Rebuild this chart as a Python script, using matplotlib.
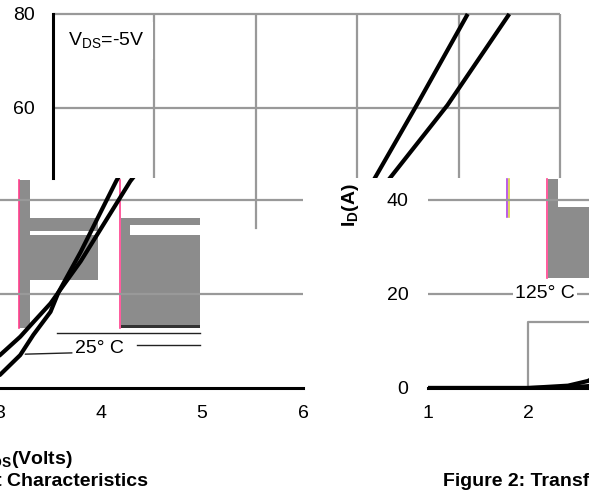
import matplotlib
matplotlib.use("Agg")
import matplotlib.pyplot as plt
from matplotlib.patches import Rectangle

plt.rcParams["font.family"] = ["Liberation Sans", "DejaVu Sans"]
plt.rcParams["mathtext.default"] = "regular"

# Transfer characteristics: drain current vs gate voltage, VDS = -5 V
vgs_25 = [1.0, 2.0, 2.4, 2.6, 2.8, 3.0, 3.2, 3.33, 3.5, 3.58, 3.8, 4.15, 4.6, 5.09]
id_25 = [0.0, 0.0, 0.1, 0.4, 1.2, 2.8, 7.0, 11.3, 16.2, 20.4, 29.0, 44.0, 61.0, 80.0]
vgs_125 = [1.0, 2.0, 2.4, 2.6, 2.8, 3.0, 3.2, 3.33, 3.5, 3.58, 3.8, 4.29, 4.89, 5.5]
id_125 = [0.0, 0.0, 0.5, 1.5, 3.8, 7.0, 10.9, 14.0, 18.0, 20.4, 27.0, 44.0, 60.5, 80.0]

x_ticks = [1, 2, 3, 4, 5, 6]
y_ticks = [0, 20, 40, 60, 80]
label_25 = "25° C"
label_125 = "125° C"
cond_text = "V$_{DS}$=-5V"
x_label = "-V$_{DS}$(Volts)"
y_label = "I$_D$(A)"
caption_1 = "Figure 1: Output Characteristics"
caption_2 = "Figure 2: Transfer Characteristics"

W, H = 589, 496
fig = plt.figure(figsize=(W / 100, H / 100), dpi=100)
fig.patch.set_facecolor("white")

GRID = "#999999"
FS = 14


def frac(x0, y0, x1, y1):
    """Pixel box (top-left origin) -> figure-fraction axes rect."""
    return [x0 / W, 1 - y1 / H, (x1 - x0) / W, (y1 - y0) / H]


def base(ax):
    for s in ax.spines.values():
        s.set_visible(False)
    ax.tick_params(length=0, labelsize=FS)
    ax.set_xticks([])
    ax.set_yticks([])


def curves(ax):
    ax.plot(vgs_25, id_25, color="black", lw=3.0, solid_capstyle="butt", zorder=4)
    ax.plot(vgs_125, id_125, color="black", lw=3.0, solid_capstyle="butt", zorder=4)


def fig_rect(ax, x0, y0, x1, y1, color="#8c8c8c", z=0.5):
    ax.add_patch(Rectangle((x0 / W, 1 - y1 / H), (x1 - x0) / W, (y1 - y0) / H,
                           transform=fig.transFigure, facecolor=color,
                           edgecolor="none", zorder=z, clip_on=False))


def fig_vline(ax, x, y0, y1, color, lw=1.2):
    ax.plot([x / W, x / W], [1 - y0 / H, 1 - y1 / H], transform=fig.transFigure,
            color=color, lw=lw, zorder=0.6, clip_on=False)


def fig_hline(ax, y, x0, x1, color="#222222", lw=1.0):
    ax.plot([x0 / W, x1 / W], [1 - y / H, 1 - y / H], transform=fig.transFigure,
            color=color, lw=lw, zorder=3, clip_on=False)


# ---- lower left window (VGS 3..6) ----
axb = fig.add_axes(frac(0, 178, 335, 388))
base(axb)
axb.set_facecolor("none")
axb.set_xlim(3, 3 + 335 / 101)
axb.set_ylim(0, 210 / 4.7)
axb.spines["bottom"].set_visible(True)
axb.spines["bottom"].set_linewidth(2.2)
axb.spines["bottom"].set_bounds(3, 6)
axb.set_xticks([t for t in x_ticks if t >= 3])
axb.tick_params(axis="x", pad=12)
for yv in y_ticks[1:3]:
    axb.hlines(yv, 3, 6, color=GRID, lw=1.6, zorder=1)
curves(axb)
axb.annotate(label_25, xy=(3.25, 7.2), xytext=(3.74, 8.5), fontsize=FS,
             ha="left", va="center", zorder=5,
             arrowprops=dict(arrowstyle="-", color="#222222", lw=1.0,
                             shrinkA=0, shrinkB=0, relpos=(0, 0.22)))
fig_hline(axb, 333, 57, 200)
fig_hline(axb, 345, 137, 200)
fig_vline(axb, 256, 178, 228, GRID, lw=1.6)
# grey blocks
fig_rect(axb, 19, 180, 30, 328)
fig_rect(axb, 30, 218, 98, 231)
fig_rect(axb, 30, 235, 98, 280)
fig_rect(axb, 121, 218, 200, 225)
fig_rect(axb, 121, 225, 130, 235)
fig_rect(axb, 121, 235, 200, 328)
fig_rect(axb, 121, 325, 200, 328, color="#333333")
fig_vline(axb, 19, 180, 328, "#ff3d8b")
fig_vline(axb, 120, 180, 328, "#ff3d8b")

# ---- lower right window (VGS 1..2.6) ----
axc = fig.add_axes(frac(428, 178, 589, 388))
base(axc)
axc.set_facecolor("none")
axc.set_xlim(1, 1 + 161 / 100)
axc.set_ylim(0, 210 / 4.7)
axc.spines["bottom"].set_visible(True)
axc.spines["bottom"].set_linewidth(2.2)
axc.set_xticks([t for t in x_ticks if t <= 2])
axc.set_yticks(y_ticks[:3])
axc.tick_params(axis="x", pad=12)
axc.tick_params(axis="y", pad=14)
for yv in y_ticks[1:3]:
    axc.axhline(yv, color=GRID, lw=1.6, zorder=1)
axc.plot([2, 2, 2.7], [0, 14, 14], color=GRID, lw=1.6, zorder=1)
curves(axc)
axc.text(2.17, 20, label_125, fontsize=FS, ha="center", va="center", zorder=5,
         bbox=dict(facecolor="white", edgecolor="none", pad=1.5))
axc.set_ylabel(y_label, fontsize=FS, fontweight="bold")
axc.yaxis.set_label_coords(-(428 - 361) / 161, (388 - 205) / 210)
fig_rect(axc, 548, 179, 558, 278)
fig_rect(axc, 558, 207, 589, 278)
fig_vline(axc, 547, 179, 278, "#ff3d8b")
fig_vline(axc, 507, 179, 217, "#b040e0")
fig_vline(axc, 509, 179, 217, "#d8d040")

# ---- upper window (VGS 1..6, ID 45..83) ----
axa = fig.add_axes(frac(53, 0, 589, 178))
base(axa)
axa.set_zorder(3)
axa.set_facecolor("white")
axa.set_xlim(1, 1 + 536 / 101.4)
axa.set_ylim(210 / 4.675, 388 / 4.675)
axa.spines["left"].set_visible(True)
axa.spines["left"].set_linewidth(2.2)
axa.spines["left"].set_bounds(210 / 4.675, 80)
axa.set_yticks(y_ticks[3:])
axa.tick_params(axis="y", pad=13)
for yv in y_ticks[3:]:
    axa.hlines(yv, 1, 6, color=GRID, lw=1.6, zorder=1)
for xv in x_ticks[1:]:
    axa.vlines(xv, 210 / 4.675, 80, color=GRID, lw=1.6, zorder=1)
curves(axa)
axa.text(1.15, 74.4, cond_text, fontsize=FS, ha="left", va="center", zorder=5,
         bbox=dict(facecolor="white", edgecolor="none", pad=6))

# ---- axis title and captions ----
fig.text(73 / W, 1 - 460 / H, x_label, fontsize=FS, fontweight="bold",
         ha="right", va="center")
fig.text(148 / W, 1 - 482 / H, caption_1, fontsize=FS, fontweight="bold",
         ha="right", va="center")
fig.text(443 / W, 1 - 482 / H, caption_2, fontsize=FS, fontweight="bold",
         ha="left", va="center")

fig.savefig("out.png", dpi=100, facecolor="white")
